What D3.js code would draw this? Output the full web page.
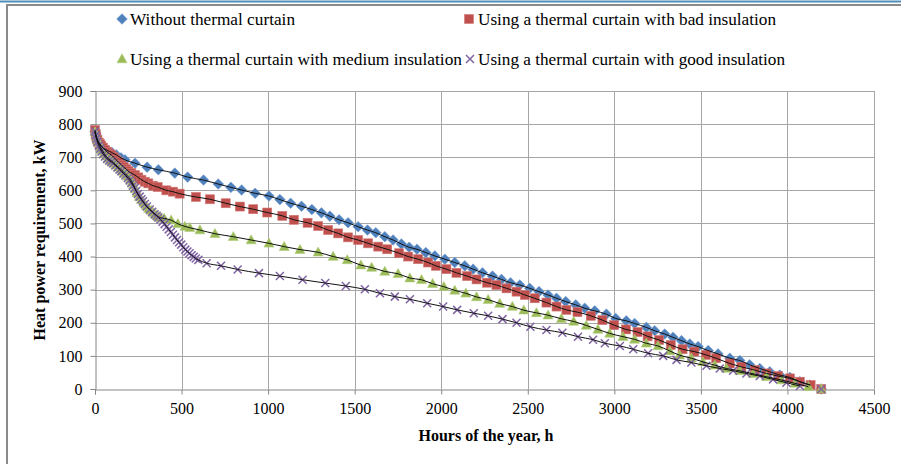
<!DOCTYPE html>
<html>
<head>
<meta charset="utf-8">
<script src="https://cdn.jsdelivr.net/npm/d3@7/dist/d3.min.js"></script>
<style>
  html, body { margin: 0; padding: 0; background: #fff; }
  svg { display: block; }
  text { font-family: "Liberation Serif", "Times New Roman", serif; fill: #000; }
</style>
</head>
<body>
<svg id="chart" width="901" height="464"></svg>
<script>
// ---- Data ----
const seriesNames = [
  "Without thermal curtain",
  "Using a thermal curtain with bad insulation",
  "Using a thermal curtain with medium insulation",
  "Using a thermal curtain with good insulation"
];

// [hour, kW]
const withoutCurtain = [[0,778],[4,768],[8,760],[14,752],[20,745],[28,738],[36,733],[46,728],[58,724],[75,720],[98,714],[123,707],[150,698],[173,692],[231,682],[301,670],[366,662],[461,652],[535,640],[627,631],[712,619],[785,609],[847,601],[925,591],[1005,583],[1068,572],[1130,561],[1193,552],[1253,542],[1308,532],[1357,522],[1410,511],[1462,502],[1520,490],[1574,480],[1622,472],[1674,460],[1722,450],[1770,438],[1815,428],[1860,422],[1911,412],[1963,402],[2021,392],[2078,382],[2136,372],[2184,362],[2238,351],[2296,341],[2348,331],[2400,321],[2454,314],[2511,304],[2565,294],[2617,284],[2666,274],[2719,264],[2777,254],[2829,244],[2887,236],[2954,226],[3008,213],[3069,206],[3117,198],[3185,186],[3233,176],[3291,166],[3339,156],[3388,146],[3436,136],[3484,128],[3542,116],[3599,106],[3667,93],[3725,86],[3782,73],[3840,62],[3898,52],[3956,42],[4014,35],[4072,22],[4129,12],[4195,0]];

const badInsulation = [[0,782],[4,770],[8,761],[14,752],[22,744],[29,740],[36,735],[46,729],[58,722],[70,716],[82,711],[94,707],[108,700],[122,692],[136,685],[152,677],[166,670],[180,664],[192,658],[210,652],[231,646],[250,639],[268,632],[288,626],[308,621],[335,614],[362,610],[412,600],[450,596],[489,590],[583,580],[664,573],[755,561],[837,551],[914,543],[995,533],[1082,523],[1149,511],[1228,502],[1289,492],[1347,480],[1405,470],[1462,458],[1520,450],[1578,440],[1636,430],[1688,422],[1757,410],[1809,400],[1867,392],[1924,382],[1969,372],[2030,362],[2088,351],[2150,341],[2204,331],[2265,321],[2319,314],[2377,304],[2435,294],[2483,284],[2540,274],[2608,261],[2666,249],[2723,239],[2787,232],[2864,221],[2931,208],[2999,193],[3067,180],[3134,172],[3192,159],[3259,148],[3326,133],[3394,120],[3462,113],[3530,103],[3588,93],[3667,77],[3734,67],[3811,57],[3879,47],[3946,39],[4014,32],[4072,22],[4134,12],[4195,0]];

const mediumInsulation = [[0,776],[6,764],[12,754],[20,744],[30,732],[40,722],[52,712],[64,703],[78,696],[92,690],[106,684],[120,677],[134,670],[148,664],[162,657],[176,650],[190,642],[204,634],[214,625],[222,616],[232,604],[244,592],[256,581],[268,572],[282,562],[296,553],[310,545],[324,539],[338,532],[352,526],[366,520],[380,517],[400,515],[440,510],[479,499],[520,491],[548,487],[606,480],[693,469],[799,460],[902,450],[1005,440],[1093,430],[1184,421],[1289,413],[1376,400],[1457,390],[1536,374],[1598,367],[1674,355],[1751,348],[1819,335],[1886,330],[1950,318],[2015,309],[2078,298],[2142,289],[2204,278],[2271,270],[2338,258],[2411,249],[2477,238],[2550,230],[2617,223],[2694,212],[2765,204],[2838,192],[2905,180],[2973,168],[3050,158],[3117,150],[3185,138],[3252,130],[3320,115],[3377,102],[3445,93],[3512,82],[3580,72],[3647,62],[3725,55],[3802,46],[3879,37],[3966,27],[4044,17],[4121,7],[4195,0]];

const goodInsulation = [[0,778],[4,766],[8,756],[14,746],[22,735],[30,726],[38,717],[48,709],[58,702],[70,695],[82,690],[94,686],[106,681],[118,675],[130,669],[142,663],[152,658],[164,651],[176,645],[190,637],[200,630],[210,622],[220,614],[229,607],[238,598],[248,589],[258,581],[268,573],[277,567],[288,559],[300,551],[316,542],[330,535],[344,528],[356,523],[366,518],[378,512],[390,505],[402,498],[414,490],[426,482],[438,474],[450,466],[462,458],[474,450],[486,443],[498,436],[510,428],[522,421],[534,415],[546,410],[558,404],[570,399],[582,394],[597,390],[645,380],[728,372],[824,361],[947,350],[1068,341],[1199,330],[1330,320],[1449,311],[1559,301],[1646,289],[1732,279],[1819,271],[1919,259],[2011,249],[2092,239],[2188,229],[2271,221],[2354,211],[2435,200],[2515,188],[2608,178],[2700,170],[2790,158],[2877,149],[2945,138],[3032,130],[3109,120],[3195,108],[3282,100],[3359,88],[3445,80],[3532,70],[3609,62],[3686,55],[3763,47],[3840,39],[3917,29],[3994,19],[4072,9],[4195,0]];

const xTicks = [0,500,1000,1500,2000,2500,3000,3500,4000,4500];
const yTicks = [0,100,200,300,400,500,600,700,800,900];
const xTitle = "Hours of the year, h";
const yTitle = "Heat power requirement, kW";

// ---- Layout ----
const svg = d3.select("#chart");
const W = 901, H = 464;
const plot = { left: 95, right: 874, top: 91, bottom: 389 };
const serif = '"Liberation Serif", "Times New Roman", serif';

svg.append("rect").attr("width", W).attr("height", H).attr("fill", "#fff");
// page frame
svg.append("line").attr("x1", 0).attr("x2", W).attr("y1", 1.5).attr("y2", 1.5)
  .attr("stroke", "#4f8fb8").attr("stroke-width", 2);
svg.append("rect").attr("x", 7).attr("y", 5).attr("width", 1000).attr("height", 1000)
  .attr("fill", "none").attr("stroke", "#8a8a8a").attr("stroke-width", 2);

const x = d3.scaleLinear().domain([0, 4500]).range([plot.left, plot.right]);
const y = d3.scaleLinear().domain([0, 900]).range([plot.bottom, plot.top]);

const gridColor = "#a6a6a6";
const axisColor = "#868686";

// gridlines
svg.append("g").selectAll("line").data(yTicks.filter(d => d > 0)).join("line")
  .attr("x1", plot.left).attr("x2", plot.right)
  .attr("y1", d => Math.round(y(d)) + 0.5).attr("y2", d => Math.round(y(d)) + 0.5)
  .attr("stroke", gridColor).attr("stroke-width", 1);
svg.append("g").selectAll("line").data(xTicks.filter(d => d > 0)).join("line")
  .attr("y1", plot.top).attr("y2", plot.bottom)
  .attr("x1", d => Math.round(x(d)) + 0.5).attr("x2", d => Math.round(x(d)) + 0.5)
  .attr("stroke", gridColor).attr("stroke-width", 1);

// axes
const xAxis = d3.axisBottom(x).tickValues(xTicks).tickSize(5).tickPadding(8).tickFormat(d3.format("d"));
const yAxis = d3.axisLeft(y).tickValues(yTicks).tickSize(5).tickPadding(8).tickFormat(d3.format("d"));
const gx = svg.append("g").attr("transform", `translate(0,${plot.bottom + 0.5})`).call(xAxis);
const gy = svg.append("g").attr("transform", `translate(${plot.left + 0.5},0)`).call(yAxis);
[gx, gy].forEach(g => {
  g.attr("font-family", null);
  g.select(".domain").attr("stroke", axisColor);
  g.selectAll(".tick line").attr("stroke", axisColor);
  g.selectAll(".tick text").style("font-family", serif).style("font-size", "16px").attr("fill", "#000");
});

// axis titles
svg.append("text").attr("x", 486).attr("y", 441).attr("text-anchor", "middle")
  .style("font-size", "16px").attr("font-weight", "bold").text(xTitle);
svg.append("text").attr("transform", "translate(45,240) rotate(-90)").attr("text-anchor", "middle")
  .style("font-size", "16px").attr("font-weight", "bold").text(yTitle);

// ---- Markers ----
const colors = ["#4f81bd", "#c0504d", "#9bbb59", "#8064a2"];
const seriesData = [withoutCurtain, badInsulation, mediumInsulation, goodInsulation];

function drawMarker(g, kind, cx, cy, color) {
  if (kind === 0) {
    const r = 5.3;
    g.append("path").attr("d", `M${cx},${cy-r}L${cx+r},${cy}L${cx},${cy+r}L${cx-r},${cy}Z`)
      .attr("fill", color).attr("stroke", "#6f99cf").attr("stroke-width", 0.6);
  } else if (kind === 1) {
    const s = 9;
    g.append("rect").attr("x", cx - s/2).attr("y", cy - s/2).attr("width", s).attr("height", s)
      .attr("fill", color).attr("stroke", "#d27a78").attr("stroke-width", 0.6);
  } else if (kind === 2) {
    g.append("path").attr("d", `M${cx},${cy-5.2}L${cx+5},${cy+3.8}L${cx-5},${cy+3.8}Z`)
      .attr("fill", color).attr("stroke", "#b0cc7a").attr("stroke-width", 0.6);
  } else {
    const r = 4;
    g.append("path").attr("d", `M${cx-r},${cy-r}L${cx+r},${cy+r}M${cx-r},${cy+r}L${cx+r},${cy-r}`)
      .attr("stroke", color).attr("stroke-width", 1.5).attr("fill", "none");
  }
}

const markerLayer = svg.append("g");
seriesData.forEach((data, i) => {
  const g = markerLayer.append("g");
  data.forEach(d => drawMarker(g, i, x(d[0]), y(d[1]), colors[i]));
});

// black connecting lines through the points
const line = d3.line().x(d => x(d[0])).y(d => y(d[1])).curve(d3.curveMonotoneX);
seriesData.forEach(data => {
  svg.append("path").datum(data.slice(0, -1)).attr("d", line)
    .attr("fill", "none").attr("stroke", "#111").attr("stroke-width", 1);
});

// ---- Legend ----
const legend = svg.append("g");
const legendItems = [
  { i: 0, mx: 122, tx: 130, cy: 19 },
  { i: 1, mx: 469, tx: 478, cy: 19 },
  { i: 2, mx: 122, tx: 130, cy: 59 },
  { i: 3, mx: 470, tx: 478, cy: 59 }
];
const legendWidths = [165, 298, 332, 307];
legendItems.forEach(it => {
  const g = legend.append("g");
  drawMarker(g, it.i, it.mx, it.cy, colors[it.i]);
  g.append("text").attr("x", it.tx).attr("y", it.cy + 5.5).style("font-size", "17px")
    .attr("textLength", legendWidths[it.i]).attr("lengthAdjust", "spacingAndGlyphs")
    .text(seriesNames[it.i]);
});
</script>
</body>
</html>
